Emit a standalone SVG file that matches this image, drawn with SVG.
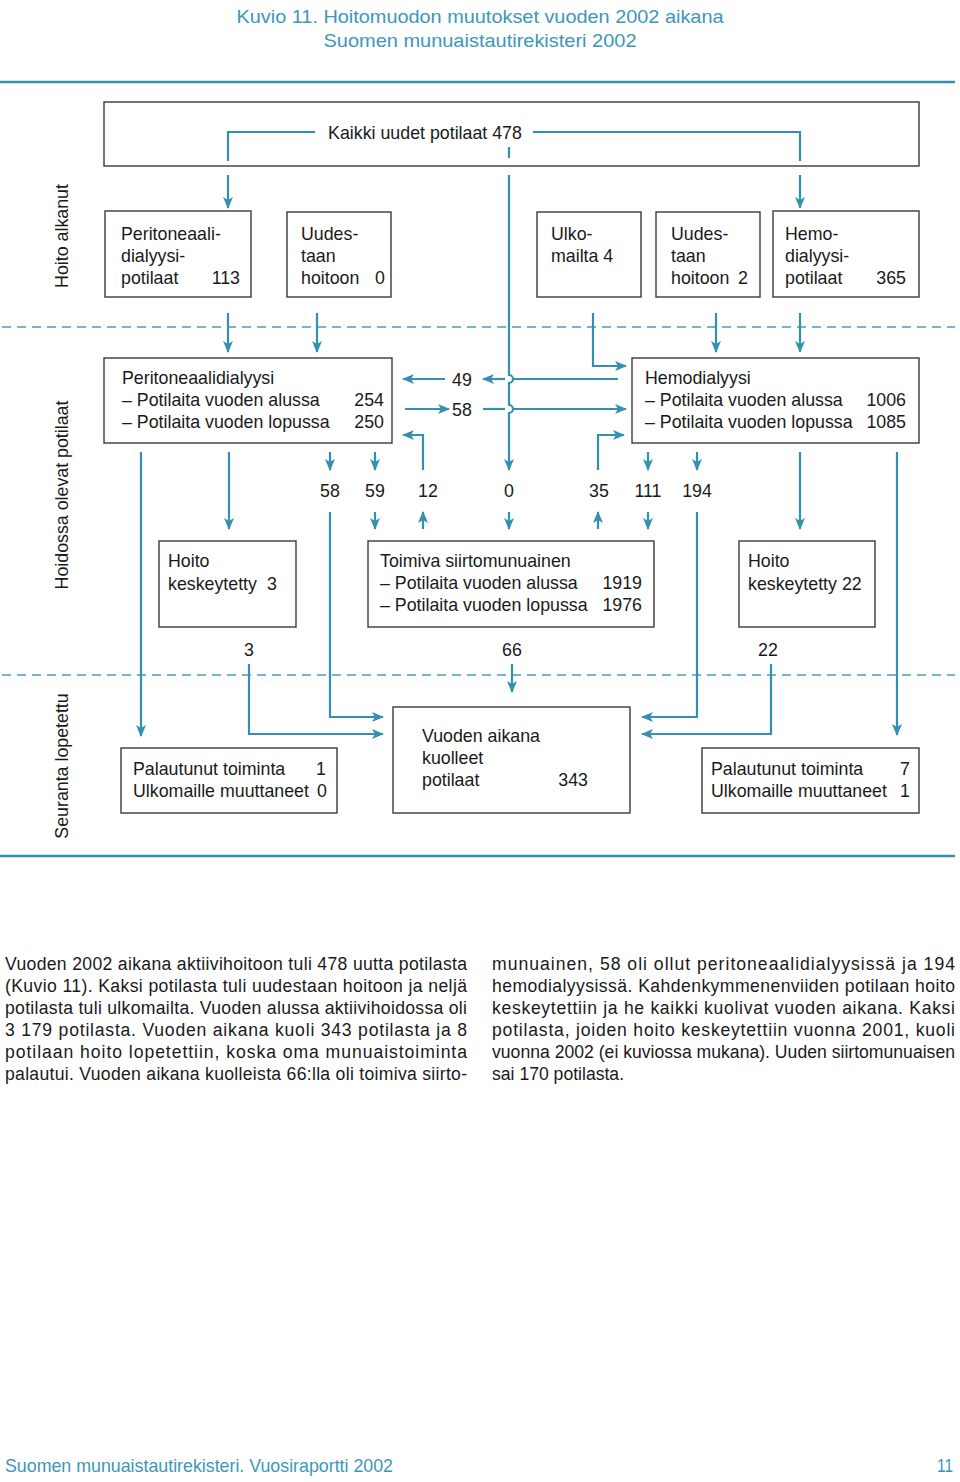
<svg xmlns="http://www.w3.org/2000/svg" width="960" height="1482" viewBox="0 0 960 1482">
<style>
.t{font-family:"Liberation Sans",Arial,Helvetica,sans-serif;font-size:17.8px;fill:#1a1a1a}
.n{font-family:"Liberation Sans",Arial,Helvetica,sans-serif;font-size:17.8px;fill:#1a1a1a;text-anchor:middle}
.r{text-anchor:end}
.body{font-family:"Liberation Sans",Arial,Helvetica,sans-serif;font-size:17.6px;fill:#1a1a1a}
.hd{font-family:"Liberation Sans",Arial,Helvetica,sans-serif;font-size:18.5px;fill:#3d97b8}
.box{fill:#fff;stroke:#3a3a3a;stroke-width:1.4}
.c{fill:none;stroke:#3490b3;stroke-width:2.2}
.ca{fill:none;stroke:#3490b3;stroke-width:2.2;marker-end:url(#ah)}
.rule{stroke:#3490b3;stroke-width:2.6}
.dash{stroke:#4a9dbd;stroke-width:1.5;stroke-dasharray:9 6}
</style>
<defs>
<marker id="ah" viewBox="0 0 12 10" refX="11" refY="5" markerWidth="12" markerHeight="10" markerUnits="userSpaceOnUse" orient="auto">
<path d="M0,0 L12,5 L0,10 L3,5 Z" fill="#3490b3"/>
</marker>
</defs>
<rect width="960" height="1482" fill="#fff"/>

<g id="title">
<text class="hd" x="480" y="23" text-anchor="middle" textLength="487" lengthAdjust="spacingAndGlyphs">Kuvio 11. Hoitomuodon muutokset vuoden 2002 aikana</text>
<text class="hd" x="480" y="47" text-anchor="middle" textLength="313" lengthAdjust="spacingAndGlyphs">Suomen munuaistautirekisteri 2002</text>
</g>

<g id="rules">
<line class="rule" x1="0" y1="82" x2="955" y2="82"/>
<line class="dash" x1="2" y1="327" x2="955" y2="327"/>
<line class="dash" x1="2" y1="675" x2="955" y2="675"/>
<line class="rule" x1="0" y1="856" x2="955" y2="856"/>
</g>

<g id="side-labels">
<text class="t" transform="translate(68,236) rotate(-90)" text-anchor="middle">Hoito alkanut</text>
<text class="t" transform="translate(68,495) rotate(-90)" text-anchor="middle">Hoidossa olevat potilaat</text>
<text class="t" transform="translate(68,766) rotate(-90)" text-anchor="middle">Seuranta lopetettu</text>
</g>

<g id="node-all-new">
<rect class="box" x="104" y="102" width="815" height="64"/>
<text class="n" x="425" y="139">Kaikki uudet potilaat 478</text>
</g>

<g id="node-pd-new">
<rect class="box" x="105" y="211" width="146" height="86"/>
<text class="t" x="121" y="240">Peritoneaali-</text>
<text class="t" x="121" y="262">dialyysi-</text>
<text class="t" x="121" y="284">potilaat</text>
<text class="t r" x="240" y="284">113</text>
</g>

<g id="node-again-0">
<rect class="box" x="287" y="212" width="104" height="85"/>
<text class="t" x="301" y="240">Uudes-</text>
<text class="t" x="301" y="262">taan</text>
<text class="t" x="301" y="284">hoitoon</text>
<text class="t r" x="385" y="284">0</text>
</g>

<g id="node-abroad">
<rect class="box" x="537" y="212" width="104" height="85"/>
<text class="t" x="551" y="240">Ulko-</text>
<text class="t" x="551" y="262">mailta 4</text>
</g>

<g id="node-again-2">
<rect class="box" x="656" y="212" width="104" height="85"/>
<text class="t" x="671" y="240">Uudes-</text>
<text class="t" x="671" y="262">taan</text>
<text class="t" x="671" y="284">hoitoon</text>
<text class="t r" x="748" y="284">2</text>
</g>

<g id="node-hd-new">
<rect class="box" x="773" y="211" width="146" height="86"/>
<text class="t" x="785" y="240">Hemo-</text>
<text class="t" x="785" y="262">dialyysi-</text>
<text class="t" x="785" y="284">potilaat</text>
<text class="t r" x="906" y="284">365</text>
</g>

<g id="node-pd">
<rect class="box" x="104" y="358" width="288" height="85"/>
<text class="t" x="122" y="384">Peritoneaalidialyysi</text>
<text class="t" x="122" y="406">– Potilaita vuoden alussa</text>
<text class="t" x="122" y="428">– Potilaita vuoden lopussa</text>
<text class="t r" x="384" y="406">254</text>
<text class="t r" x="384" y="428">250</text>
</g>

<g id="node-hd">
<rect class="box" x="632" y="358" width="287" height="85"/>
<text class="t" x="645" y="384">Hemodialyysi</text>
<text class="t" x="645" y="406">– Potilaita vuoden alussa</text>
<text class="t" x="645" y="428">– Potilaita vuoden lopussa</text>
<text class="t r" x="906" y="406">1006</text>
<text class="t r" x="906" y="428">1085</text>
</g>

<g id="node-stop-3">
<rect class="box" x="159" y="541" width="137" height="86"/>
<text class="t" x="168" y="567">Hoito</text>
<text class="t" x="168" y="590">keskeytetty</text>
<text class="t r" x="277" y="590">3</text>
</g>

<g id="node-tx">
<rect class="box" x="368" y="541" width="286" height="86"/>
<text class="t" x="380" y="567">Toimiva siirtomunuainen</text>
<text class="t" x="380" y="589">– Potilaita vuoden alussa</text>
<text class="t" x="380" y="611">– Potilaita vuoden lopussa</text>
<text class="t r" x="642" y="589">1919</text>
<text class="t r" x="642" y="611">1976</text>
</g>

<g id="node-stop-22">
<rect class="box" x="739" y="541" width="136" height="86"/>
<text class="t" x="748" y="567">Hoito</text>
<text class="t" x="748" y="590">keskeytetty 22</text>
</g>

<g id="node-recovered-left">
<rect class="box" x="121" y="748" width="216" height="65"/>
<text class="t" x="133" y="775">Palautunut toiminta</text>
<text class="t" x="133" y="797">Ulkomaille muuttaneet</text>
<text class="t r" x="326" y="775">1</text>
<text class="t r" x="327" y="797">0</text>
</g>

<g id="node-dead">
<rect class="box" x="393" y="707" width="237" height="106"/>
<text class="t" x="422" y="742">Vuoden aikana</text>
<text class="t" x="422" y="764">kuolleet</text>
<text class="t" x="422" y="786">potilaat</text>
<text class="t r" x="588" y="786">343</text>
</g>

<g id="node-recovered-right">
<rect class="box" x="702" y="748" width="217" height="65"/>
<text class="t" x="711" y="775">Palautunut toiminta</text>
<text class="t" x="711" y="797">Ulkomaille muuttaneet</text>
<text class="t r" x="910" y="775">7</text>
<text class="t r" x="910" y="797">1</text>
</g>

<g id="connectors">
<path class="c" d="M228,161 V132 H315"/>
<path class="c" d="M533,132 H800 V161"/>
<path class="c" d="M509,147 V158"/>
<path class="ca" d="M228,175 V208"/>
<path class="ca" d="M800,175 V208"/>
<path class="ca" d="M509,175 V375 a4,4 0 0 1 0,8 V405 a4,4 0 0 1 0,8 V470"/>
<path class="ca" d="M228,313 V352"/>
<path class="ca" d="M317,313 V352"/>
<path class="ca" d="M593,313 V366 H626"/>
<path class="ca" d="M716,313 V352"/>
<path class="ca" d="M800,313 V352"/>
<path class="c" d="M618,379 H514"/>
<path class="ca" d="M505,379 H483"/>
<path class="ca" d="M445,379 H403"/>
<path class="ca" d="M405,409 H449"/>
<path class="c" d="M483,409 H505"/>
<path class="ca" d="M514,409 H626"/>
<path class="ca" d="M423,470 V435 H403"/>
<path class="ca" d="M598,470 V435 H624"/>
<path class="ca" d="M330,452 V470"/>
<path class="ca" d="M375,452 V470"/>
<path class="ca" d="M648,452 V470"/>
<path class="ca" d="M697,452 V470"/>
<path class="ca" d="M375,512 V529"/>
<path class="ca" d="M509,512 V529"/>
<path class="ca" d="M648,512 V529"/>
<path class="ca" d="M423,529 V512"/>
<path class="ca" d="M598,529 V512"/>
<path class="ca" d="M330,512 V717 H383"/>
<path class="ca" d="M249,664 V734 H383"/>
<path class="ca" d="M697,512 V717 H642"/>
<path class="ca" d="M771,664 V734 H642"/>
<path class="ca" d="M512,664 V692"/>
<path class="ca" d="M141,452 V736"/>
<path class="ca" d="M229,452 V529"/>
<path class="ca" d="M800,452 V529"/>
<path class="ca" d="M897,452 V735"/>
</g>

<g id="flow-labels">
<text class="n" x="462" y="386">49</text>
<text class="n" x="462" y="416">58</text>
<text class="n" x="330" y="497">58</text>
<text class="n" x="375" y="497">59</text>
<text class="n" x="428" y="497">12</text>
<text class="n" x="509" y="497">0</text>
<text class="n" x="599" y="497">35</text>
<text class="n" x="648" y="497">111</text>
<text class="n" x="697" y="497">194</text>
<text class="n" x="249" y="656">3</text>
<text class="n" x="512" y="656">66</text>
<text class="n" x="768" y="656">22</text>
</g>

<g id="body-text">
<text class="body" x="5" y="970" textLength="462" lengthAdjust="spacing">Vuoden 2002 aikana aktiivihoitoon tuli 478 uutta potilasta</text>
<text class="body" x="5" y="992" textLength="462" lengthAdjust="spacing">(Kuvio 11). Kaksi potilasta tuli uudestaan hoitoon ja neljä</text>
<text class="body" x="5" y="1014" textLength="462" lengthAdjust="spacing">potilasta tuli ulkomailta. Vuoden alussa aktiivihoidossa oli</text>
<text class="body" x="5" y="1036" textLength="462" lengthAdjust="spacing">3 179 potilasta. Vuoden aikana kuoli 343 potilasta ja 8</text>
<text class="body" x="5" y="1058" textLength="462" lengthAdjust="spacing">potilaan hoito lopetettiin, koska oma munuaistoiminta</text>
<text class="body" x="5" y="1080" textLength="462" lengthAdjust="spacing">palautui. Vuoden aikana kuolleista 66:lla oli toimiva siirto-</text>
<text class="body" x="492" y="970" textLength="463" lengthAdjust="spacing">munuainen, 58 oli ollut peritoneaalidialyysissä ja 194</text>
<text class="body" x="492" y="992" textLength="463" lengthAdjust="spacing">hemodialyysissä. Kahdenkymmenenviiden potilaan hoito</text>
<text class="body" x="492" y="1014" textLength="463" lengthAdjust="spacing">keskeytettiin ja he kaikki kuolivat vuoden aikana. Kaksi</text>
<text class="body" x="492" y="1036" textLength="463" lengthAdjust="spacing">potilasta, joiden hoito keskeytettiin vuonna 2001, kuoli</text>
<text class="body" x="492" y="1058" textLength="463" lengthAdjust="spacing">vuonna 2002 (ei kuviossa mukana). Uuden siirtomunuaisen</text>
<text class="body" x="492" y="1080">sai 170 potilasta.</text>
</g>

<g id="footer">
<text class="hd" x="5" y="1472" textLength="388" lengthAdjust="spacingAndGlyphs">Suomen munuaistautirekisteri. Vuosiraportti 2002</text>
<text class="hd" x="953" y="1472" text-anchor="end" textLength="16" lengthAdjust="spacingAndGlyphs">11</text>
</g>
</svg>
